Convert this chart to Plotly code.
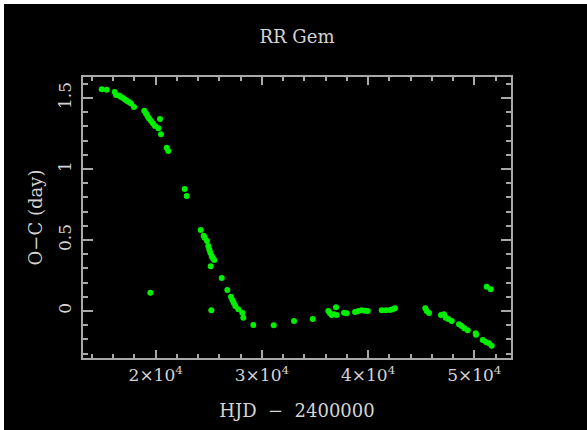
import plotly.graph_objects as go

hjd = [14915, 15386, 16140, 16262, 16544, 16733, 16921, 17109, 17298, 17486, 17674, 17957,
       18927, 19087, 19228, 19369, 19557, 19746, 19934, 20245, 20405, 20499, 21036, 21187,
       19492,
       22731, 22919, 24237, 24520, 24614, 24831, 24953, 25047, 25141, 25273, 25367, 25518,
       25179, 26215, 26742, 27090, 27213, 27345, 27495, 27778, 28154, 28248, 25235, 29190, 31111,
       33022, 34783,
       36253, 36412, 36573, 36789, 36977, 37043, 37731, 37985, 38768, 39077, 39398, 39711,
       39963, 41280, 41685, 42062, 42317, 42533,
       45386, 45518, 45734, 46865, 47147, 47309, 47554, 47874, 48561, 48815, 49059, 49379,
       50132, 50160, 50791, 51101, 51384, 51638, 51166, 51543]
oc = [1.561, 1.558, 1.542, 1.521, 1.518, 1.507, 1.500, 1.489, 1.479, 1.472, 1.461, 1.437,
      1.411, 1.391, 1.373, 1.356, 1.338, 1.320, 1.303, 1.287, 1.352, 1.244, 1.150, 1.127,
      0.129,
      0.859, 0.810, 0.570, 0.530, 0.516, 0.493, 0.458, 0.434, 0.411, 0.387, 0.373, 0.359,
      0.315, 0.232, 0.148, 0.101, 0.077, 0.058, 0.035, 0.012, -0.012, -0.047, 0.005, -0.099, -0.101,
      -0.070, -0.056,
      0.000, -0.016, -0.028, -0.023, 0.026, -0.028, -0.012, -0.016, -0.007, 0.000, 0.005, 0.002,
      0.000, 0.005, 0.005, 0.007, 0.012, 0.019,
      0.019, 0.000, -0.014, -0.028, -0.023, -0.047, -0.056, -0.070, -0.094, -0.106, -0.122, -0.136,
      -0.157, -0.167, -0.204, -0.218, -0.228, -0.244, 0.171, 0.153]

x_tickvals = [20000, 30000, 40000, 50000]
x_ticktext = ["2×10<sup>4</sup>", "3×10<sup>4</sup>", "4×10<sup>4</sup>", "5×10<sup>4</sup>"]
y_tickvals = [0, 0.5, 1, 1.5]
y_ticktext = ["0", "0.5", "1", "1.5"]

FONT = "DejaVu Serif"
TXT = "#d4d4d4"
AX = "#a8a8a8"

fig = go.Figure()
fig.add_trace(go.Scatter(x=hjd, y=oc, mode="markers",
                         marker=dict(color="#00f000", size=6, line=dict(width=0)),
                         showlegend=False, hoverinfo="skip"))

# white strip on top and left, black canvas elsewhere
L, R, T, B = 83, 76, 77, 72
W, H = 587, 430
pw, ph = W - L - R, H - T - B
fig.add_shape(type="rect", xref="paper", yref="paper", layer="below",
              x0=(4 - L) / pw, x1=(W - L) / pw,
              y0=(H - B - H) / ph, y1=(H - B - 4) / ph,
              fillcolor="black", line=dict(width=0))

fig.update_layout(
    width=W, height=H,
    margin=dict(l=L, r=R, t=T, b=B, autoexpand=False),
    paper_bgcolor="white", plot_bgcolor="black",
    font=dict(family=FONT, color=TXT, size=16),
    title=dict(text="RR Gem", x=0.5, xref="paper", y=1 - 37 / H, yanchor="middle",
               font=dict(family=FONT, size=18, color=TXT)),
    xaxis=dict(range=[13154, 53456], showgrid=False, zeroline=False,
               showline=True, linecolor=AX, linewidth=2, mirror="allticks",
               ticks="inside", ticklen=8, tickwidth=1.5, tickcolor=AX,
               tickvals=x_tickvals, ticktext=x_ticktext, ticklabelstandoff=1,
               tickfont=dict(family=FONT, size=17, color=TXT),
               minor=dict(dtick=2000, tick0=0, ticks="inside", ticklen=4,
                          tickwidth=1.5, tickcolor=AX, showgrid=False),
               title=dict(text="HJD\u00a0 −\u00a0 2400000", standoff=20,
                          font=dict(family=FONT, size=18, color=TXT))),
    yaxis=dict(range=[-0.331, 1.648], showgrid=False, zeroline=False,
               showline=True, linecolor=AX, linewidth=2, mirror="allticks",
               ticks="inside", ticklen=10, tickwidth=1.5, tickcolor=AX,
               tickvals=y_tickvals, ticktext=y_ticktext, tickangle=-90,
               ticklabelstandoff=3,
               tickfont=dict(family=FONT, size=17, color=TXT),
               minor=dict(dtick=0.1, tick0=0, ticks="inside", ticklen=5,
                          tickwidth=1.5, tickcolor=AX, showgrid=False),
               title=dict(text="O−C (day)", standoff=8,
                          font=dict(family=FONT, size=18, color=TXT))),
)

fig.write_html("out.html", config={"displayModeBar": False},
               post_script="document.body.style.margin='0';document.body.style.padding='0';")
